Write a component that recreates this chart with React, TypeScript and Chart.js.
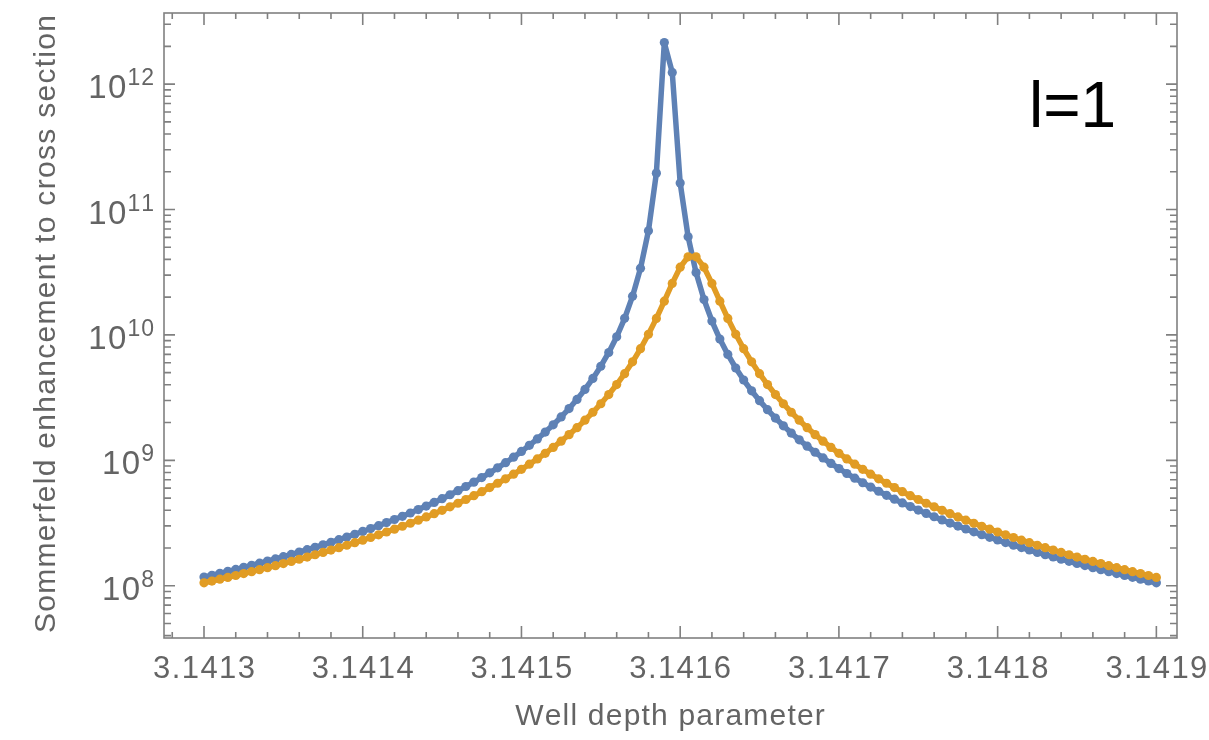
import React, { useEffect, useRef } from "react";
import { Chart, registerables } from "chart.js";

Chart.register(...registerables);

// Sample positions (well depth parameter)
const X_VALUES: number[] = [
  3.1413, 3.141305, 3.14131, 3.141315, 3.14132, 3.141325, 3.14133, 3.141335, 3.14134, 3.141345,
  3.14135, 3.141355, 3.14136, 3.141365, 3.14137, 3.141375, 3.14138, 3.141385, 3.14139, 3.141395,
  3.1414, 3.141405, 3.14141, 3.141415, 3.14142, 3.141425, 3.14143, 3.141435, 3.14144, 3.141445,
  3.14145, 3.141455, 3.14146, 3.141465, 3.14147, 3.141475, 3.14148, 3.141485, 3.14149, 3.141495,
  3.1415, 3.141505, 3.14151, 3.141515, 3.14152, 3.141525, 3.14153, 3.141535, 3.14154, 3.141545,
  3.14155, 3.141555, 3.14156, 3.141565, 3.14157, 3.141575, 3.14158, 3.141585, 3.14159, 3.141595,
  3.1416, 3.141605, 3.14161, 3.141615, 3.14162, 3.141625, 3.14163, 3.141635, 3.14164, 3.141645,
  3.14165, 3.141655, 3.14166, 3.141665, 3.14167, 3.141675, 3.14168, 3.141685, 3.14169, 3.141695,
  3.1417, 3.141705, 3.14171, 3.141715, 3.14172, 3.141725, 3.14173, 3.141735, 3.14174, 3.141745,
  3.14175, 3.141755, 3.14176, 3.141765, 3.14177, 3.141775, 3.14178, 3.141785, 3.14179, 3.141795,
  3.1418, 3.141805, 3.14181, 3.141815, 3.14182, 3.141825, 3.14183, 3.141835, 3.14184, 3.141845,
  3.14185, 3.141855, 3.14186, 3.141865, 3.14187, 3.141875, 3.14188, 3.141885, 3.14189, 3.141895,
  3.1419,
];

// Blue series (Sommerfeld enhancement)
const BLUE_VALUES: number[] = [
  1.1715e8, 1.2127e8, 1.256e8, 1.3018e8, 1.3501e8, 1.4011e8, 1.455e8, 1.5121e8, 1.5727e8, 1.637e8,
  1.7053e8, 1.7779e8, 1.8554e8, 1.9379e8, 2.0261e8, 2.1205e8, 2.2216e8, 2.3302e8, 2.4469e8, 2.5725e8,
  2.7082e8, 2.8547e8, 3.0136e8, 3.1862e8, 3.3738e8, 3.5788e8, 3.803e8, 4.0486e8, 4.3192e8, 4.6177e8,
  4.9482e8, 5.3155e8, 5.7253e8, 6.1844e8, 6.7011e8, 7.2852e8, 7.9491e8, 8.7083e8, 9.5815e8, 1.0593e9,
  1.1774e9, 1.3163e9, 1.4814e9, 1.6796e9, 1.9205e9, 2.2171e9, 2.5881e9, 3.0607e9, 3.6755e9, 4.4963e9,
  5.6259e9, 7.2418e9, 9.6686e9, 1.3556e10, 2.0363e10, 3.3959e10, 6.7629e10, 1.9506e11, 2.1434e12, 1.2398e12,
  1.6269e11, 6.0656e10, 3.142e10, 1.9169e10, 1.2902e10, 9.2724e9, 6.9838e9, 5.4488e9, 4.3693e9, 3.5816e9,
  2.9891e9, 2.5324e9, 2.1729e9, 1.8848e9, 1.6504e9, 1.4572e9, 1.296e9, 1.1602e9, 1.0446e9, 9.4554e8,
  8.5988e8, 7.8538e8, 7.2013e8, 6.627e8, 6.1188e8, 5.6668e8, 5.2632e8, 4.9012e8, 4.5752e8, 4.2808e8,
  4.0139e8, 3.7711e8, 3.5499e8, 3.3475e8, 3.1618e8, 2.9913e8, 2.8341e8, 2.6891e8, 2.5549e8, 2.4304e8,
  2.3149e8, 2.2075e8, 2.1073e8, 2.0138e8, 1.9264e8, 1.8445e8, 1.7678e8, 1.6958e8, 1.628e8, 1.5643e8,
  1.5042e8, 1.4475e8, 1.394e8, 1.3433e8, 1.2954e8, 1.25e8, 1.207e8, 1.1661e8, 1.1273e8, 1.0904e8,
  1.0552e8,
];

// Orange series
const ORANGE_VALUES: number[] = [
  1.055e8, 1.0901e8, 1.1269e8, 1.1657e8, 1.2065e8, 1.2494e8, 1.2947e8, 1.3425e8, 1.393e8, 1.4464e8,
  1.5029e8, 1.5628e8, 1.6263e8, 1.6938e8, 1.7656e8, 1.842e8, 1.9235e8, 2.0105e8, 2.1036e8, 2.2032e8,
  2.3101e8, 2.425e8, 2.5485e8, 2.6818e8, 2.8258e8, 2.9817e8, 3.1508e8, 3.3346e8, 3.535e8, 3.754e8,
  3.9939e8, 4.2574e8, 4.5479e8, 4.869e8, 5.2251e8, 5.6217e8, 6.0649e8, 6.5624e8, 7.1234e8, 7.759e8,
  8.483e8, 9.3125e8, 1.0269e9, 1.1379e9, 1.2677e9, 1.4208e9, 1.603e9, 1.8221e9, 2.0884e9, 2.4165e9,
  2.8262e9, 3.3464e9, 4.0189e9, 4.9062e9, 6.1041e9, 7.7625e9, 1.0119e10, 1.3545e10, 1.8579e10, 2.5757e10,
  3.4692e10, 4.1973e10, 4.1973e10, 3.4692e10, 2.5757e10, 1.8579e10, 1.3545e10, 1.0119e10, 7.7625e9, 6.1041e9,
  4.9062e9, 4.0189e9, 3.3464e9, 2.8262e9, 2.4165e9, 2.0884e9, 1.8221e9, 1.603e9, 1.4208e9, 1.2677e9,
  1.1379e9, 1.0269e9, 9.3125e8, 8.483e8, 7.759e8, 7.1234e8, 6.5624e8, 6.0649e8, 5.6217e8, 5.2251e8,
  4.869e8, 4.5479e8, 4.2574e8, 3.9939e8, 3.754e8, 3.535e8, 3.3346e8, 3.1508e8, 2.9817e8, 2.8258e8,
  2.6818e8, 2.5485e8, 2.425e8, 2.3101e8, 2.2032e8, 2.1036e8, 2.0105e8, 1.9235e8, 1.842e8, 1.7656e8,
  1.6938e8, 1.6263e8, 1.5628e8, 1.5029e8, 1.4464e8, 1.393e8, 1.3425e8, 1.2947e8, 1.2494e8, 1.2065e8,
  1.1657e8,
];

const X_TICKS: number[] = [3.1413, 3.1414, 3.1415, 3.1416, 3.1417, 3.1418, 3.1419];
const X_TICK_LABELS: string[] = ["3.1413", "3.1414", "3.1415", "3.1416", "3.1417", "3.1418", "3.1419"];
const Y_EXPONENTS: number[] = [8, 9, 10, 11, 12];
const X_LABEL = "Well depth parameter";
const Y_LABEL = "Sommerfeld enhancement to cross section";
const ANNOTATION = "l=1";

const BLUE = "#5E81B5";
const ORANGE = "#E19C24";
const FRAME = "#808080";
const TEXT = "#646464";
const FONT = '"Liberation Sans", Arial, sans-serif';

function drawSpaced(
  ctx: CanvasRenderingContext2D,
  text: string,
  x: number,
  y: number,
  spacing: number,
  align: "left" | "center" | "right"
) {
  const chars = Array.from(text);
  const widths = chars.map((c) => ctx.measureText(c).width);
  const total = widths.reduce((a, b) => a + b, 0) + spacing * (chars.length - 1);
  let cx = align === "left" ? x : align === "center" ? x - total / 2 : x - total;
  ctx.textAlign = "left";
  chars.forEach((c, i) => {
    ctx.fillText(c, cx, y);
    cx += widths[i] + spacing;
  });
  return total;
}

const framePlugin = {
  id: "mmaFrame",
  afterDraw(chart: any) {
    const ctx: CanvasRenderingContext2D = chart.ctx;
    const xs = chart.scales.x;
    const ys = chart.scales.y;
    const { left, right, top, bottom } = chart.chartArea;
    ctx.save();
    ctx.strokeStyle = FRAME;
    ctx.lineWidth = 1.6;
    ctx.strokeRect(left, top, right - left, bottom - top);

    // x ticks (bottom + top)
    const step = (X_TICKS[1] - X_TICKS[0]) / 5;
    for (let i = -3; i <= (X_TICKS.length - 1) * 5 + 3; i++) {
      const v = X_TICKS[0] + i * step;
      const px = xs.getPixelForValue(v);
      if (px < left + 1 || px > right - 1) continue;
      const major = i % 5 === 0;
      const len = major ? 12 : 6;
      ctx.beginPath();
      ctx.moveTo(px, bottom);
      ctx.lineTo(px, bottom - len);
      ctx.moveTo(px, top);
      ctx.lineTo(px, top + len);
      ctx.stroke();
    }
    // y ticks (left + right)
    for (let e = 7; e <= 12; e++) {
      for (let m = 1; m <= 9; m++) {
        const v = m * Math.pow(10, e);
        const py = ys.getPixelForValue(v);
        if (py < top + 1 || py > bottom - 1) continue;
        const len = m === 1 ? 11 : 7;
        ctx.beginPath();
        ctx.moveTo(left, py);
        ctx.lineTo(left + len, py);
        ctx.moveTo(right, py);
        ctx.lineTo(right - len, py);
        ctx.stroke();
      }
    }

    // x tick labels
    ctx.fillStyle = TEXT;
    ctx.textBaseline = "alphabetic";
    ctx.font = `31px ${FONT}`;
    X_TICKS.forEach((v, i) => {
      const px = xs.getPixelForValue(v);
      drawSpaced(ctx, X_TICK_LABELS[i], px, 678, 1.4, "center");
    });

    // y tick labels 10^n
    Y_EXPONENTS.forEach((e) => {
      const py = ys.getPixelForValue(Math.pow(10, e));
      ctx.font = `23px ${FONT}`;
      const w = drawSpaced(ctx, String(e), 154, py + 1, 1, "right");
      ctx.font = `33px ${FONT}`;
      drawSpaced(ctx, "10", 154 - w - 1, py + 14, 1.5, "right");
    });

    // axis titles
    ctx.font = `30px ${FONT}`;
    drawSpaced(ctx, X_LABEL, 670, 725, 1.2, "center");
    ctx.save();
    ctx.translate(55, 324);
    ctx.rotate(-Math.PI / 2);
    drawSpaced(ctx, Y_LABEL, 0, 0, 1.3, "center");
    ctx.restore();

    // annotation
    ctx.fillStyle = "#000000";
    ctx.font = `64px ${FONT}`;
    drawSpaced(ctx, ANNOTATION, 1029, 127, 0, "left");
    ctx.restore();
  },
};

export default function App() {
  const ref = useRef<HTMLCanvasElement | null>(null);
  useEffect(() => {
    if (!ref.current) return;
    const blueData = X_VALUES.map((x, i) => ({ x, y: BLUE_VALUES[i] }));
    const orangeData = X_VALUES.map((x, i) => ({ x, y: ORANGE_VALUES[i] }));
    const chart = new Chart(ref.current, {
      type: "line",
      data: {
        datasets: [
          {
            label: "blue",
            data: blueData,
            borderColor: BLUE,
            backgroundColor: BLUE,
            pointBackgroundColor: BLUE,
            pointBorderWidth: 0,
            pointRadius: 4.6,
            borderWidth: 5.5,
            borderJoinStyle: "round",
            borderCapStyle: "round",
            tension: 0,
            order: 2,
          },
          {
            label: "orange",
            data: orangeData,
            borderColor: ORANGE,
            backgroundColor: ORANGE,
            pointBackgroundColor: ORANGE,
            pointBorderWidth: 0,
            pointRadius: 4.6,
            borderWidth: 5.5,
            borderJoinStyle: "round",
            borderCapStyle: "round",
            tension: 0,
            order: 1,
          },
        ],
      },
      options: {
        responsive: false,
        animation: false,
        events: [],
        layout: { padding: { left: 0, top: 13, right: 32, bottom: 0 } },
        plugins: { legend: { display: false }, tooltip: { enabled: false }, title: { display: false } },
        scales: {
          x: {
            type: "linear",
            min: 3.1412748,
            max: 3.141913,
            grid: { display: false },
            border: { display: false },
            ticks: { display: false },
            afterFit: (s: any) => {
              s.height = 102;
            },
          },
          y: {
            type: "logarithmic",
            min: 3.83e7,
            max: 3.69e12,
            grid: { display: false },
            border: { display: false },
            ticks: { display: false },
            afterFit: (s: any) => {
              s.width = 164;
            },
          },
        },
      },
      plugins: [framePlugin],
    });
    return () => chart.destroy();
  }, []);
  return (
    <div style={{ position: "fixed", left: 0, top: 0, width: 1209, height: 740, background: "#fff" }}>
      <canvas ref={ref} width={1209} height={740} style={{ display: "block" }} />
    </div>
  );
}
